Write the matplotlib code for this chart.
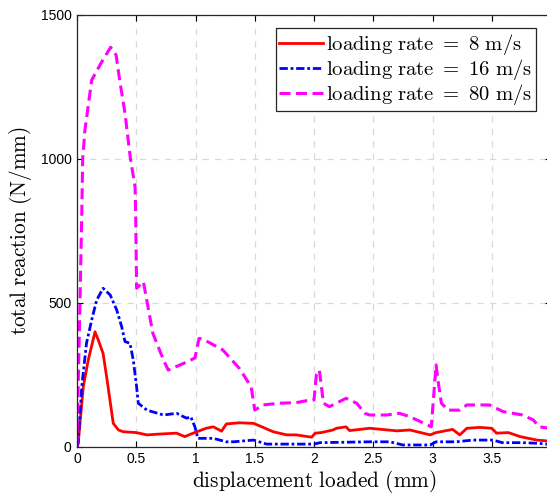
import matplotlib
matplotlib.use('Agg')
import matplotlib.pyplot as plt

plt.rcParams['mathtext.fontset'] = 'cm'

# loading rate = 8 m/s
x_8 = [0.0, 0.01, 0.053, 0.095, 0.152, 0.18, 0.22, 0.25, 0.278, 0.306, 0.35, 0.39,
       0.50, 0.59, 0.70, 0.84, 0.91, 0.98, 1.09, 1.15, 1.22, 1.26, 1.37, 1.49, 1.56,
       1.655, 1.77, 1.85, 1.98, 2.01, 2.06, 2.16, 2.19, 2.27, 2.30, 2.47, 2.70, 2.81,
       2.98, 3.03, 3.17, 3.23, 3.29, 3.40, 3.50, 3.54, 3.64, 3.74, 3.88, 3.97]
y_8 = [0, 12, 208, 301, 399, 370, 324, 243, 162, 81, 58, 52,
       49, 41, 44, 47, 35, 47, 64, 69, 54, 79, 83, 81, 69,
       52, 41, 41, 33, 47, 49, 58, 64, 69, 56, 64, 55, 58,
       41, 49, 60, 41, 64, 67, 64, 47, 49, 35, 23, 20]

# loading rate = 16 m/s
x_16 = [0.0, 0.01, 0.04, 0.08, 0.124, 0.166, 0.22, 0.28, 0.335, 0.377, 0.405, 0.447,
        0.475, 0.503, 0.517, 0.59, 0.73, 0.84, 0.925, 0.96, 0.995, 1.02, 1.15, 1.26,
        1.32, 1.49, 1.6, 2.0, 2.05, 2.47, 2.64, 2.75, 2.98, 3.03, 3.2, 3.34, 3.51,
        3.59, 3.76, 3.88, 3.97]
y_16 = [0, 13, 208, 359, 440, 509, 550, 527, 475, 417, 365, 359,
        301, 208, 151, 127, 110, 116, 99, 104, 69, 29, 29, 17,
        17, 23, 9, 9, 14, 17, 17, 6, 6, 17, 17, 23, 23,
        14, 14, 12, 9]

# loading rate = 80 m/s
x_80 = [0.0, 0.012, 0.025, 0.04, 0.048, 0.067, 0.124, 0.21, 0.284, 0.33, 0.36, 0.405,
        0.45, 0.49, 0.495, 0.503, 0.56, 0.64, 0.73, 0.77, 0.87, 0.925, 0.995, 1.03,
        1.065, 1.23, 1.37, 1.47, 1.50, 1.57, 1.71, 1.85, 1.965, 2.0, 2.02, 2.045,
        2.08, 2.13, 2.27, 2.36, 2.43, 2.47, 2.61, 2.72, 2.81, 2.96, 2.99, 3.03, 3.05,
        3.075, 3.13, 3.23, 3.29, 3.48, 3.595, 3.76, 3.85, 3.90, 3.97]
y_80 = [0, 250, 500, 800, 1000, 1100, 1273, 1337, 1387, 1360, 1273, 1158,
        1003, 902, 811, 550, 573, 394, 301, 266, 284, 294, 308, 376,
        373, 336, 272, 208, 127, 145, 151, 153, 162, 162, 250, 266,
        151, 139, 168, 151, 116, 110, 110, 116, 104, 75, 69, 284, 220,
        151, 127, 127, 145, 145, 122, 110, 93, 69, 65]

rates = ['8', '16', '80']
labels = [r'$\mathrm{loading\ rate}\ =\ %s\ \mathrm{m/s}$' % r for r in rates]

fig = plt.figure(figsize=(5.47, 4.94), dpi=100)
ax = fig.add_axes([77 / 547, 47.3 / 494, 474 / 547, 432 / 494])

ax.plot(x_8, y_8, color='red', linewidth=2, label=labels[0])
ax.plot(x_16, y_16, color='blue', linewidth=2, linestyle=(0, (3, 1, 1, 1)),
        label=labels[1])
ax.plot(x_80, y_80, color='magenta', linewidth=2.2, linestyle=(0, (3.6, 1.8)),
        label=labels[2])

ax.set_xlim(0, 4)
ax.set_ylim(0, 1500)
ax.set_xticks([0, 0.5, 1, 1.5, 2, 2.5, 3, 3.5, 4])
ax.set_xticklabels(['0', '0.5', '1', '1.5', '2', '2.5', '3', '3.5', '4'])
ax.set_yticks([0, 500, 1000, 1500])
ax.grid(True, linestyle=(0, (5, 5)), color='#d9d9d9', linewidth=0.9)
ax.tick_params(direction='in', top=True, right=True, length=4, labelsize=10, pad=4)
for lab in ax.get_xticklabels() + ax.get_yticklabels():
    lab.set_fontfamily('Liberation Sans')
for sp in ax.spines.values():
    sp.set_color('#262626')
    sp.set_linewidth(0.9)

ax.set_xlabel(r'$\mathrm{displacement\ loaded\ (mm)}$', fontsize=15.3, labelpad=1)
ax.set_ylabel(r'$\mathrm{total\ reaction\ (N/mm)}$', fontsize=15.3, labelpad=5)

leg = ax.legend(loc='upper right', bbox_to_anchor=(0.968, 0.969), borderaxespad=0,
                fontsize=14.9, handlelength=2.1, handletextpad=0.15, labelspacing=0.0,
                borderpad=0.18, fancybox=False, framealpha=1)
leg.get_frame().set_edgecolor('#262626')
leg.get_frame().set_linewidth(0.9)

fig.savefig('out.png', dpi=100)
plt.close(fig)
